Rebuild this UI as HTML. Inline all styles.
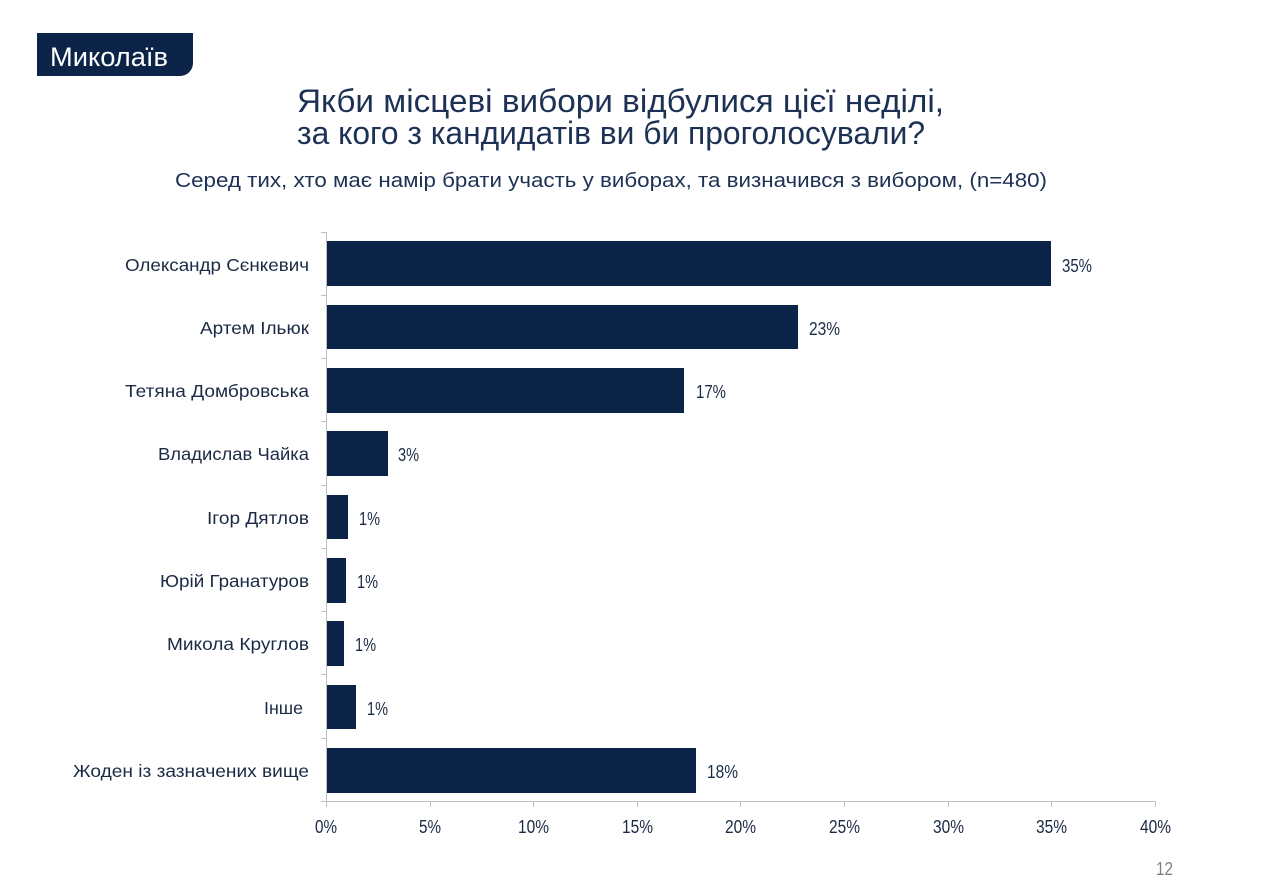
<!DOCTYPE html>
<html><head><meta charset="utf-8"><style>
html,body{margin:0;padding:0;background:#fff;}
svg{display:block;}
text{font-family:"Liberation Sans","DejaVu Sans",sans-serif;}
</style></head><body>
<svg width="1280" height="887" viewBox="0 0 1280 887" xmlns="http://www.w3.org/2000/svg">
<rect width="1280" height="887" fill="#fff"/>
<!-- banner -->
<path d="M37 33 H193 V63 A13 13 0 0 1 180 76 H37 Z" fill="#0b2448"/>
<text x="50" y="66" font-size="27" fill="#fff" textLength="118" lengthAdjust="spacingAndGlyphs">Миколаїв</text>
<!-- title -->
<text x="297" y="112" font-size="32" fill="#1c3153" textLength="647" lengthAdjust="spacingAndGlyphs">Якби місцеві вибори відбулися цієї неділі,</text>
<text x="297" y="144" font-size="32" fill="#1c3153" textLength="628" lengthAdjust="spacingAndGlyphs">за кого з кандидатів ви би проголосували?</text>
<text x="175" y="187" font-size="20" fill="#1c3153" textLength="872" lengthAdjust="spacingAndGlyphs">Серед тих, хто має намір брати участь у виборах, та визначився з вибором, (n=480)</text>
<!-- axes -->
<g stroke="#bfbfbf" stroke-width="1">
<line x1="326.5" y1="232" x2="326.5" y2="801"/>
<line x1="326" y1="801.5" x2="1155" y2="801.5"/>
<line x1="321" y1="232.5" x2="326" y2="232.5"/>
<line x1="321" y1="295.5" x2="326" y2="295.5"/>
<line x1="321" y1="358.5" x2="326" y2="358.5"/>
<line x1="321" y1="421.5" x2="326" y2="421.5"/>
<line x1="321" y1="485.5" x2="326" y2="485.5"/>
<line x1="321" y1="548.5" x2="326" y2="548.5"/>
<line x1="321" y1="611.5" x2="326" y2="611.5"/>
<line x1="321" y1="674.5" x2="326" y2="674.5"/>
<line x1="321" y1="738.5" x2="326" y2="738.5"/>
<line x1="321" y1="801.5" x2="326" y2="801.5"/>
<line x1="326.5" y1="801" x2="326.5" y2="807"/>
<line x1="430.5" y1="801" x2="430.5" y2="807"/>
<line x1="533.5" y1="801" x2="533.5" y2="807"/>
<line x1="637.5" y1="801" x2="637.5" y2="807"/>
<line x1="740.5" y1="801" x2="740.5" y2="807"/>
<line x1="844.5" y1="801" x2="844.5" y2="807"/>
<line x1="948.5" y1="801" x2="948.5" y2="807"/>
<line x1="1051.5" y1="801" x2="1051.5" y2="807"/>
<line x1="1155.5" y1="801" x2="1155.5" y2="807"/>
</g>
<!-- bars -->
<g fill="#0a2347">
<rect x="327" y="241" width="724" height="45"/>
<rect x="327" y="305" width="471" height="44"/>
<rect x="327" y="368" width="357" height="45"/>
<rect x="327" y="431" width="61" height="45"/>
<rect x="327" y="495" width="21" height="44"/>
<rect x="327" y="558" width="19" height="45"/>
<rect x="327" y="621" width="17" height="45"/>
<rect x="327" y="685" width="29" height="44"/>
<rect x="327" y="748" width="369" height="45"/>
</g>
<!-- category labels -->
<g font-size="17.5" fill="#1b2a45">
<text x="125" y="271" textLength="184" lengthAdjust="spacingAndGlyphs">Олександр Сєнкевич</text>
<text x="200" y="334" textLength="109" lengthAdjust="spacingAndGlyphs">Артем Ільюк</text>
<text x="125" y="397" textLength="184" lengthAdjust="spacingAndGlyphs">Тетяна Домбровська</text>
<text x="158" y="460" textLength="151" lengthAdjust="spacingAndGlyphs">Владислав Чайка</text>
<text x="207" y="524" textLength="102" lengthAdjust="spacingAndGlyphs">Ігор Дятлов</text>
<text x="160" y="587" textLength="149" lengthAdjust="spacingAndGlyphs">Юрій Гранатуров</text>
<text x="167" y="650" textLength="142" lengthAdjust="spacingAndGlyphs">Микола Круглов</text>
<text x="264" y="714" textLength="39" lengthAdjust="spacingAndGlyphs">Інше</text>
<text x="73" y="777" textLength="236" lengthAdjust="spacingAndGlyphs">Жоден із зазначених вище</text>
</g>
<!-- value labels -->
<g font-size="18" fill="#1b2a45">
<text x="1062" y="272" textLength="30" lengthAdjust="spacingAndGlyphs">35%</text>
<text x="809" y="335" textLength="31" lengthAdjust="spacingAndGlyphs">23%</text>
<text x="696" y="398" textLength="30" lengthAdjust="spacingAndGlyphs">17%</text>
<text x="398" y="461" textLength="21" lengthAdjust="spacingAndGlyphs">3%</text>
<text x="359" y="525" textLength="21" lengthAdjust="spacingAndGlyphs">1%</text>
<text x="357" y="588" textLength="21" lengthAdjust="spacingAndGlyphs">1%</text>
<text x="355" y="651" textLength="21" lengthAdjust="spacingAndGlyphs">1%</text>
<text x="367" y="715" textLength="21" lengthAdjust="spacingAndGlyphs">1%</text>
<text x="707" y="778" textLength="31" lengthAdjust="spacingAndGlyphs">18%</text>
</g>
<!-- tick labels -->
<g font-size="18" fill="#1b2a45">
<text x="315" y="833" textLength="22" lengthAdjust="spacingAndGlyphs">0%</text>
<text x="419" y="833" textLength="22" lengthAdjust="spacingAndGlyphs">5%</text>
<text x="518" y="833" textLength="31" lengthAdjust="spacingAndGlyphs">10%</text>
<text x="622" y="833" textLength="31" lengthAdjust="spacingAndGlyphs">15%</text>
<text x="725" y="833" textLength="31" lengthAdjust="spacingAndGlyphs">20%</text>
<text x="829" y="833" textLength="31" lengthAdjust="spacingAndGlyphs">25%</text>
<text x="933" y="833" textLength="31" lengthAdjust="spacingAndGlyphs">30%</text>
<text x="1036" y="833" textLength="31" lengthAdjust="spacingAndGlyphs">35%</text>
<text x="1140" y="833" textLength="31" lengthAdjust="spacingAndGlyphs">40%</text>
</g>
<text x="1156" y="875" font-size="18" fill="#808080" textLength="17" lengthAdjust="spacingAndGlyphs">12</text>
</svg>
</body></html>
